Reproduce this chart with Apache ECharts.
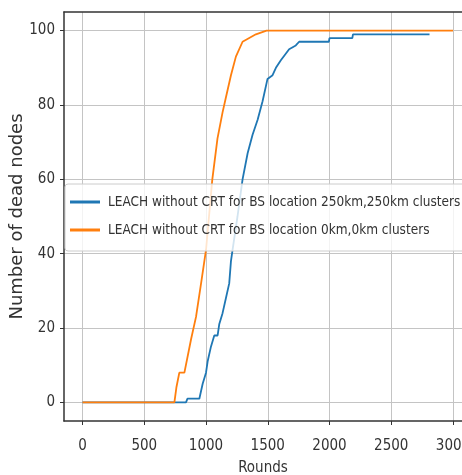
<!DOCTYPE html>
<html>
<head>
<meta charset="utf-8">
<script src="https://cdn.jsdelivr.net/npm/echarts@6/dist/echarts.min.js"></script>
<style>
html,body{margin:0;padding:0;background:#fff;}
#chart{width:462px;height:475px;}
</style>
</head>
<body>
<div id="chart"></div>
<script>
// ---- data ----
const seriesNames = [
  'LEACH without CRT for BS location 250km,250km clusters',
  'LEACH without CRT for BS location 0km,0km clusters'
];
const roundsBlue = [0, 838, 850, 946, 973, 1000, 1013, 1040, 1067, 1094, 1107, 1134, 1161, 1188, 1202, 1215, 1255, 1296, 1337, 1377, 1418, 1458, 1498, 1539, 1566, 1606, 1673, 1727, 1754, 1995, 2000, 2185, 2190, 2810];
const deadBlue   = [0,   0,   1,   1,   5,    8,   11,   15,   18,   18,   21,   24,   28,   32,   38,   41,   50,   60,   67,   72,   76,   81,   87,   88,   90,   92,   95,   96,   97,   97,   98,   98,   99,   99];
const roundsOrange = [0, 744, 760, 784, 825, 879, 919, 960, 1000, 1051, 1093, 1134, 1161, 1202, 1242, 1296, 1350, 1404, 1490, 3000];
const deadOrange   = [0,   0,   4,   8,   8,  17,  23,  32,   41,   60,   71,   78,   82,   88,   93,   97,   98,   99,  100,  100];
const xTicks = [0, 500, 1000, 1500, 2000, 2500, 3000];
const yTicks = [0, 20, 40, 60, 80, 100];

const FONT = "'Liberation Sans Narrow', 'DejaVu Sans Condensed', 'DejaVu Sans', sans-serif";
const TXT = '#333333';

function pairs(xs, ys) { return xs.map((x, i) => [x, ys[i]]); }
const plain = v => String(v);

const chart = echarts.init(document.getElementById('chart'), null, {renderer: 'canvas'});
chart.setOption({
  animation: false,
  backgroundColor: '#ffffff',
  grid: {left: 64, right: 0, top: 12, bottom: 54, containLabel: false, outerBoundsMode: 'none'},
  legend: {
    orient: 'vertical',
    left: 65, top: 184,
    padding: [11, 60, 14, 5],
    itemGap: 14,
    itemWidth: 30, itemHeight: 3,
    icon: 'rect',
    backgroundColor: 'rgba(255,255,255,0.8)',
    borderColor: '#cccccc', borderWidth: 1, borderRadius: 3,
    textStyle: {fontFamily: FONT, fontSize: 13.5, color: TXT, padding: [0, 0, 0, 3]},
    data: seriesNames
  },
  xAxis: [{
    type: 'value', min: -150, max: 3073, minInterval: 500, maxInterval: 500,
    position: 'bottom',
    axisLine: {show: true, onZero: false, lineStyle: {color: '#333', width: 1.5}},
    axisTick: {show: true, length: 4, customValues: xTicks, lineStyle: {color: '#333', width: 1}},
    axisLabel: {customValues: xTicks, formatter: plain, margin: 18, fontFamily: FONT, fontSize: 15, color: TXT},
    splitLine: {show: true, lineStyle: {color: '#c4c4c4', width: 1}},
    name: 'Rounds', nameLocation: 'middle', nameGap: 40,
    nameTextStyle: {fontFamily: FONT, fontSize: 15, color: TXT}
  }, {
    type: 'value', min: -150, max: 3073, position: 'top',
    axisLine: {show: true, onZero: false, lineStyle: {color: '#333', width: 1.5}},
    axisTick: {show: false}, axisLabel: {show: false}, splitLine: {show: false}
  }],
  yAxis: {
    type: 'value', min: -5, max: 105, minInterval: 20, maxInterval: 20,
    axisLine: {show: true, onZero: false, lineStyle: {color: '#333', width: 1.5}},
    axisTick: {show: true, length: 4, customValues: yTicks, lineStyle: {color: '#333', width: 1}},
    axisLabel: {customValues: yTicks, formatter: plain, margin: 9, fontFamily: FONT, fontSize: 15, color: TXT},
    splitLine: {show: true, lineStyle: {color: '#c4c4c4', width: 1}},
    name: 'Number of dead nodes', nameLocation: 'middle', nameGap: 38, nameRotate: 90,
    nameMoveOverlap: false,
    nameTextStyle: {fontFamily: "'DejaVu Sans', sans-serif", fontSize: 18, color: TXT}
  },
  series: [{
    name: seriesNames[0], type: 'line', xAxisIndex: 0,
    data: pairs(roundsBlue, deadBlue),
    showSymbol: false, symbol: 'none',
    color: '#1f77b4',
    lineStyle: {color: '#1f77b4', width: 1.8}
  }, {
    name: seriesNames[1], type: 'line', xAxisIndex: 0,
    data: pairs(roundsOrange, deadOrange),
    showSymbol: false, symbol: 'none',
    color: '#ff7f0e',
    lineStyle: {color: '#ff7f0e', width: 1.8}
  }]
});
</script>
</body>
</html>
